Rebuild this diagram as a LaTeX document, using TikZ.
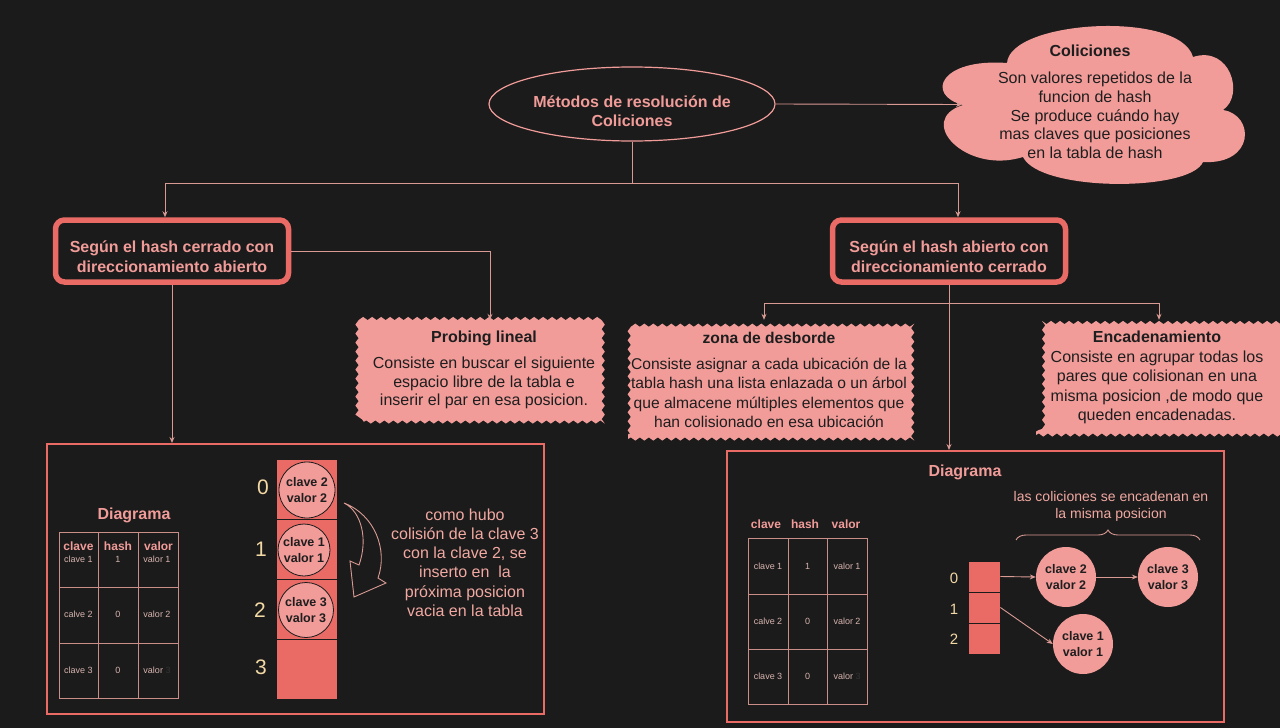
\documentclass[tikz,border=0pt]{standalone}
\usepackage{fontspec}
\setmainfont{Liberation Sans}
\usetikzlibrary{shapes.geometric,decorations.pathmorphing,decorations.pathreplacing,arrows.meta,calc}
\definecolor{bg}{HTML}{1B1B1B}
\definecolor{pinkf}{HTML}{F19C99}
\definecolor{redc}{HTML}{EA6B66}
\definecolor{txtp}{HTML}{F19C99}
\definecolor{linec}{HTML}{D99A93}
\definecolor{cream}{HTML}{F3D9A4}
\definecolor{tabl}{HTML}{C98E88}
\definecolor{smallc}{HTML}{D8B4AF}
\definecolor{cmt}{HTML}{F2A9A2}
\definecolor{darkt}{HTML}{1E1E1E}
\definecolor{dimc}{HTML}{333333}
\newcommand\myfs[2]{\fontsize{#1}{#2}\selectfont}
\begin{document}
\begin{tikzpicture}[x=1pt,y=-1pt,
 conn/.style={draw=linec, line width=0.9pt, -{Stealth[length=6pt,width=5pt]}},
 plain/.style={draw=linec, line width=0.9pt},
 headbox/.style={draw=redc, line width=5.5pt, rounded corners=9pt, fill=bg, minimum width=233pt, minimum height=62pt, inner sep=0pt},
 headtxt/.style={align=center, text=txtp, font=\bfseries\myfs{16}{20}, inner sep=0pt},
 wavy/.style={fill=pinkf, decorate, decoration={snake, segment length=9pt, amplitude=1.6pt}, inner sep=0pt},
 wtxt/.style={align=center, text=darkt, font=\myfs{16}{19.2}, inner sep=0pt},
 diagbox/.style={draw=redc, line width=2pt, inner sep=0pt},
 cellL/.style={fill=redc, draw=bg, line width=0.8pt, inner sep=0pt},
 ball/.style={circle, fill=pinkf, inner sep=0pt, align=center, text=darkt, font=\bfseries\myfs{12.5}{15.5}},
 num/.style={text=cream, inner sep=0pt},
 th/.style={text=txtp, font=\bfseries\myfs{12}{14}, inner sep=0pt},
 td/.style={text=smallc, font=\myfs{9}{11}, inner sep=0pt},
 dtitle/.style={text=txtp, font=\bfseries\myfs{16}{19}, inner sep=0pt},
 tline/.style={draw=tabl, line width=0.9pt},
]
\fill[bg] (0,0) rectangle (1280,728);
\useasboundingbox (0,0) rectangle (1280,728);

% top ellipse and cloud
\node[ellipse, draw=pinkf, line width=1.2pt, minimum width=286pt, minimum height=74pt, inner sep=0pt] (ell) at (632,104) {};
\node[headtxt, font=\bfseries\myfs{16}{19.2}] (ellt) at (632,111) {Métodos de resolución de\\Coliciones};

\fill[pinkf] (963,105) .. controls (925,95) and (940,58) .. (1007,63)
  .. controls (1010,20) and (1180,10) .. (1193,57)
  .. controls (1230,45) and (1245,95) .. (1223,110)
  .. controls (1255,115) and (1255,165) .. (1203,162)
  .. controls (1190,192) and (1040,192) .. (1023,157)
  .. controls (965,175) and (915,120) .. (963,105) -- cycle;
\coordinate (cldin) at (962,104.5);
\node[wtxt, font=\bfseries\myfs{16}{19}] (cldh) at (1090,51) {Coliciones};
\node[wtxt, font=\myfs{16}{18.6}] (cldt) at (1095,115.3) {Son valores repetidos de la\\funcion de hash\\Se produce cuándo hay\\mas claves que posiciones\\en la tabla de hash};
\draw[conn] (ell.east) -- (cldin);

% heading boxes
\node[headbox] (lbox) at (172,251) {};
\node[headtxt] (lboxt) at (172,256.5) {Según el hash cerrado con\\direccionamiento abierto};
\node[headbox] (rbox) at (949,251) {};
\node[headtxt] (rboxt) at (949,256.5) {Según el hash abierto con\\direccionamiento cerrado};
\coordinate (split) at (632,183);
\draw[plain] (ell.south) -- (split);
\draw[conn] (split) -| ([xshift=-7pt]lbox.north);
\draw[conn] (split) -| ([xshift=9pt]rbox.north);

% wavy boxes
\node[wavy, minimum width=241pt, minimum height=102pt] (probe) at (484,371) {};
\node[wtxt, font=\myfs{16}{18.7}] (probet) at (484,370) {\textbf{Probing lineal}\\[7.3pt]Consiste en buscar el siguiente\\espacio libre de la tabla e\\inserir el par en esa posicion.};
\draw[conn] (lbox.east) -| ([xshift=6pt]probe.north);

\node[wavy, minimum width=282pt, minimum height=119pt] (zona) at (769,379.5) {};
\node[wtxt, font=\myfs{15.6}{19.2}] (zonat) at (769,380) {\textbf{zona de desborde}\\[6.5pt]Consiste asignar a cada ubicación de la\\tabla hash una lista enlazada o un árbol\\que almacene múltiples elementos que\\han colisionado en esa ubicación};

\node[wavy, minimum width=242pt, minimum height=115pt] (enc) at (1157,377.5) {};
\node[wtxt, font=\myfs{16}{19.5}] (enct) at (1157,377.5) {\textbf{Encadenamiento}\\Consiste en agrupar todas los\\pares que colisionan en una\\misma posicion ,de modo que\\queden encadenadas.};

\coordinate (split2) at (949,303);
\draw[plain] (rbox.south) -- (split2);
\draw[conn] (split2) -| ([xshift=-5pt]zona.north);
\draw[conn] (split2) -| ([xshift=2pt]enc.north);

% diagram boxes
\node[diagbox, minimum width=496.6pt, minimum height=270pt] (ldiag) at (295.7,579) {};
\node[diagbox, minimum width=497pt, minimum height=271pt] (rdiag) at (975.5,586.5) {};
\draw[conn] (lbox.south) -- (lbox.south |- ldiag.north);
\draw[conn] (rbox.south) -- (rbox.south |- rdiag.north);

% ---- left diagram
\node[dtitle] (ldt) at (134,515) {Diagrama};
\draw[tline] (59,532) rectangle (178,698);
\draw[tline] (98,532) -- (98,698) (138,532) -- (138,698) (59,587) -- (178,587) (59,643) -- (178,643);
\node[th] (lh1) at (78.5,546.5) {clave};
\node[th] (lh2) at (118,546.5) {hash};
\node[th] (lh3) at (158.5,546.5) {valor};
\node[td] (l11) at (78.5,559.5) {clave 1};
\node[td] (l12) at (118,559.5) {1};
\node[td] (l13) at (157,559.5) {valor 1};
\node[td] (l21) at (78.5,614.5) {calve 2};
\node[td] (l22) at (118,614.5) {0};
\node[td] (l23) at (157,614.5) {valor 2};
\node[td] (l31) at (78.5,670.5) {clave 3};
\node[td] (l32) at (118,670.5) {0};
\node[td] (l33) at (157,670.5) {valor \textcolor{dimc}{3}};

\node[cellL, minimum width=61.5pt, minimum height=60pt] (lc0) at (306.75,489) {};
\node[cellL, minimum width=61.5pt, minimum height=60pt] (lc1) at (306.75,549.5) {};
\node[cellL, minimum width=61.5pt, minimum height=60pt] (lc2) at (306.75,609.5) {};
\node[cellL, minimum width=61.5pt, minimum height=60pt] (lc3) at (306.75,669) {};
\node[ball, draw=bg, line width=0.8pt, minimum size=56pt] (lb0) at (307,490) {clave 2\\valor 2};
\node[ball, draw=bg, line width=0.8pt, minimum size=52pt] (lb1) at (304,550) {clave 1\\valor 1};
\node[ball, draw=bg, line width=0.8pt, minimum size=55pt] (lb2) at (306,610) {clave 3\\valor 3};
\node[num, font=\myfs{21}{24}] (ln0) at (263,487) {0};
\node[num, font=\myfs{21}{24}] (ln1) at (261,549) {1};
\node[num, font=\myfs{21}{24}] (ln2) at (260,610) {2};
\node[num, font=\myfs{21}{24}] (ln3) at (261,667) {3};

\draw[linec, line width=0.9pt, line join=miter] (344,503) .. controls (362,512) and (368,540) .. (359,565) -- (350,561) -- (354,597) -- (386,583) -- (378,578) .. controls (388,550) and (375,515) .. (344,503) -- cycle;

\node[text=cmt, align=center, font=\myfs{16}{19.2}, inner sep=0pt] (cmtl) at (465,562.5) {como hubo\\colisión de la clave 3\\con la clave 2, se\\inserto en\ \ la\\próxima posicion\\vacia en la tabla};

% ---- right diagram
\node[dtitle] (rdt) at (965,472) {Diagrama};
\node[text=cmt, align=center, font=\myfs{14}{16.8}, inner sep=0pt] (rcap) at (1111,506.5) {las coliciones se encadenan en\\la misma posicion};
\coordinate (brl) at (1016,540);
\coordinate (brr) at (1200,540);
\draw[linec, line width=0.9pt, decorate, decoration={brace, amplitude=10pt}] (brl) -- (brr);

\node[th] (rh1) at (766,524.5) {clave};
\node[th] (rh2) at (805,524.5) {hash};
\node[th] (rh3) at (846,524.5) {valor};
\draw[tline] (748.6,538) rectangle (867,704);
\draw[tline] (788,538) -- (788,704) (827,538) -- (827,704) (748.6,594) -- (867,594) (748.6,649) -- (867,649);
\node[td] (r11) at (768,566.5) {clave 1};
\node[td] (r12) at (807.5,566.5) {1};
\node[td] (r13) at (847,566.5) {valor 1};
\node[td] (r21) at (768,621.5) {calve 2};
\node[td] (r22) at (807.5,621.5) {0};
\node[td] (r23) at (847,621.5) {valor 2};
\node[td] (r31) at (768,676.5) {clave 3};
\node[td] (r32) at (807.5,676.5) {0};
\node[td] (r33) at (847,676.5) {valor \textcolor{dimc}{3}};

\node[cellL, minimum width=32pt, minimum height=31pt] (rc0) at (984,576.5) {};
\node[cellL, minimum width=32pt, minimum height=31pt] (rc1) at (984,607.5) {};
\node[cellL, minimum width=32pt, minimum height=31pt] (rc2) at (984,638.5) {};
\node[num, font=\myfs{15}{18}] (rn0) at (954,578) {0};
\node[num, font=\myfs{15}{18}] (rn1) at (954,609) {1};
\node[num, font=\myfs{15}{18}] (rn2) at (954,639) {2};

\node[ball, minimum size=60pt] (rb2) at (1066,577) {clave 2\\valor 2};
\node[ball, minimum size=60pt] (rb3) at (1168,577) {clave 3\\valor 3};
\node[ball, minimum size=60pt] (rb1) at (1083,644) {clave 1\\valor 1};
\draw[conn] (rc0.east) -- (rb2.west);
\draw[conn] (rb2.east) -- (rb3.west);
\draw[conn] (rc1.east) -- (rb1.west);
\end{tikzpicture}
\end{document}
